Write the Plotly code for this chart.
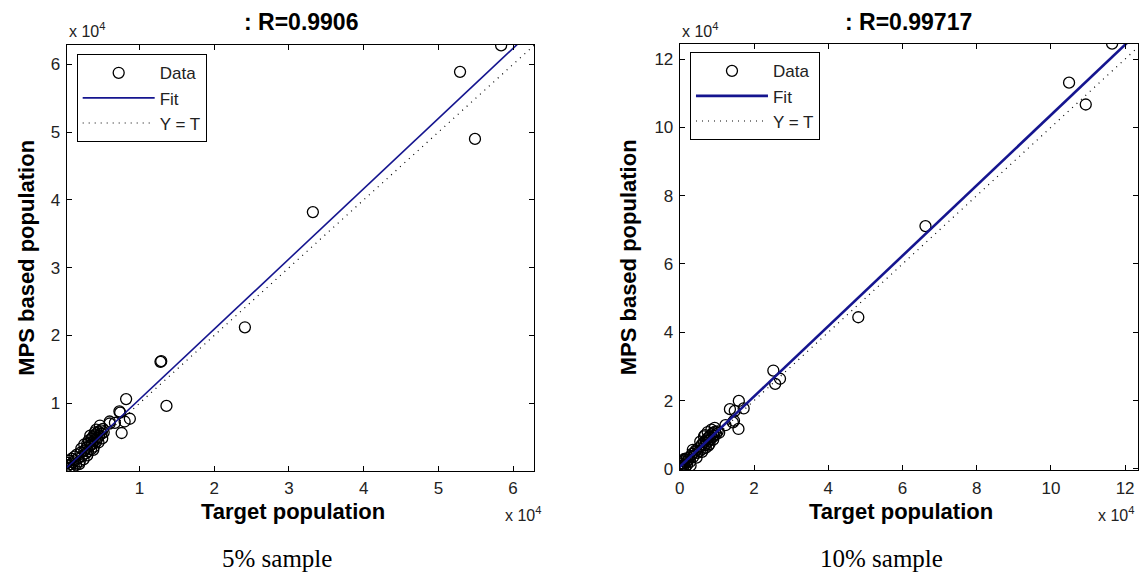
import plotly.graph_objects as go

# ---------------- data: 5% sample (left) ----------------
t5 = [300, 400, 500, 600, 700, 800, 900, 1000, 1100, 1200, 1300, 1400, 1500, 1600, 1800,
      2000, 2100, 2300, 2500, 2600, 2800, 2900, 3000, 3100, 3200, 3300, 3400, 3500, 3600,
      3700, 3800, 3900, 4000, 4100, 4200, 4300, 4400, 4500, 4600, 4800, 4900, 5100, 5200,
      2600, 3000, 3400, 3800, 4200, 4500, 4700, 5000, 3600, 4000, 2200, 1900,
      6000, 6700, 6000, 7300, 7400, 7600, 8000, 8200, 8700, 12800, 12900, 13600, 24100,
      33200, 52900, 54900, 58400]
y5 = [1200, 800, 300, 1500, 500, 1000, 1800, 200, 1300, 700, 2100, 1600, 900, 2400, 1900,
      1400, 2700, 2200, 1700, 3000, 2600, 3400, 4000, 2900, 4500, 3700, 4200, 3200, 4800,
      4000, 5100, 3600, 4600, 5300, 4300, 5600, 4900, 5800, 5200, 6000, 5500, 6200, 5700,
      3900, 2300, 5200, 3100, 6100, 4200, 6700, 4800, 3900, 5700, 3300, 1000,
      7300, 7100, 7000, 8800, 8600, 5600, 7300, 10600, 7700, 16100, 16200, 9600, 21200,
      38200, 58900, 49000, 62800]
fit5_slope, fit5_intercept = 1.036, 210
lim5 = [250, 62850]
r5_text = ": R=0.9906"

# ---------------- data: 10% sample (right) ----------------
t10 = [200, 400, 500, 700, 900, 1000, 1200, 1400, 1500, 1700, 1900, 2000, 2200, 2500, 2800,
       3000, 3300, 3600, 4000, 4300, 4700, 5000, 5400, 5700, 6000, 6200, 6500, 6800, 7000,
       7300, 7500, 7800, 8000, 8200, 8500, 8700, 9000, 9200, 9500, 9800, 10200, 10600,
       5500, 6000, 6500, 7000, 7500, 8000, 8500, 9000, 6800, 7700, 9400, 3500, 4500,
       1200, 2900,
       12300, 13500, 14300, 14600, 14800, 15800, 15900, 17200, 25200, 25700, 27000,
       48100, 66200, 104900, 109400, 116500]
y10 = [-200, 300, 900, 1500, 600, 2200, 1200, 2800, 400, 1900, 3100, 1300, 2500, 3300, 2100,
       3800, 4400, 3500, 4900, 5400, 4700, 6000, 5300, 6700, 7300, 5900, 7800, 7000, 8300,
       7600, 9000, 8200, 9500, 8700, 10100, 9200, 10500, 9700, 10900, 10200, 11000, 10600,
       8000, 5000, 9500, 6200, 10800, 7300, 11500, 8600, 9900, 6800, 12000, 5600, 3300,
       2900, 1000,
       12800, 17500, 13600, 14100, 17000, 11700, 19900, 17700, 28800, 24900, 26400,
       44400, 71100, 113100, 106700, 124500]
fit10_slope, fit10_intercept = 1.03, 600
lim10 = [-150, 124500]
r10_text = ": R=0.99717"

ticks5 = [1, 2, 3, 4, 5, 6]
ticks10 = [0, 2, 4, 6, 8, 10, 12]

W, H = 1139, 583
FIT_COLOR = "#15158f"
SANS = "Liberation Sans, Arial"
TICKFONT = dict(family=SANS, size=17, color="#222")
BOLD = dict(family=SANS, size=23, color="black")
XBOLD = dict(family=SANS, size=22, color="black")
YBOLD = dict(family=SANS, size=22, color="black")

fig = go.Figure()

def add_panel(t, y, slope, intercept, lim, xa, ya, legend, fitw):
    fig.add_trace(go.Scatter(x=t, y=y, mode="markers", name="Data",
                             marker=dict(symbol="circle-open", size=11, color="black",
                                         line=dict(width=1.3, color="black")),
                             xaxis=xa, yaxis=ya, legend=legend))
    fx = [lim[0], lim[1]]
    fy = [slope * v + intercept for v in fx]
    fig.add_trace(go.Scatter(x=fx, y=fy, mode="lines", name="Fit",
                             line=dict(color=FIT_COLOR, width=fitw),
                             xaxis=xa, yaxis=ya, legend=legend))
    fig.add_trace(go.Scatter(x=fx, y=fx, mode="lines", name="Y = T",
                             line=dict(color="black", width=1.2, dash="1px,5px"),
                             xaxis=xa, yaxis=ya, legend=legend))

add_panel(t5, y5, fit5_slope, fit5_intercept, lim5, "x", "y", "legend", 1.6)
add_panel(t10, y10, fit10_slope, fit10_intercept, lim10, "x2", "y2", "legend2", 2.6)

def px_x(p):
    return p / W

def px_y(p):
    return 1 - p / H

axis_common = dict(showline=True, linecolor="black", linewidth=1, mirror="ticks",
                   ticks="inside", ticklen=5, tickcolor="black", tickwidth=1,
                   showgrid=False, zeroline=False, tickfont=TICKFONT)

L = dict(x0=62, x1=531.7, y0=45.7, y1=477.3)
R = dict(x0=677.7, x1=1137.7, y0=44.3, y1=477.0)

LEGFONT = dict(family=SANS, size=17, color="#222")
fig.update_layout(
    width=W, height=H, margin=dict(l=0, r=0, t=0, b=0),
    paper_bgcolor="white", plot_bgcolor="white",
    xaxis=dict(domain=[px_x(L["x0"]), px_x(L["x1"])], range=lim5,
               tickvals=[v * 1e4 for v in ticks5], ticktext=[str(v) for v in ticks5],
               anchor="y", ticklabelstandoff=2, **axis_common),
    yaxis=dict(domain=[px_y(L["y1"]), px_y(L["y0"])], range=[30, 62850],
               tickvals=[v * 1e4 for v in ticks5], ticktext=[str(v) for v in ticks5],
               anchor="x", ticklabelstandoff=2, **axis_common),
    xaxis2=dict(domain=[px_x(R["x0"]), px_x(R["x1"])], range=[-30, 123400],
                tickvals=[v * 1e4 for v in ticks10], ticktext=[str(v) for v in ticks10],
                anchor="y2", ticklabelstandoff=2, **axis_common),
    yaxis2=dict(domain=[px_y(R["y1"]), px_y(R["y0"])], range=[-450, 124500],
                tickvals=[v * 1e4 for v in ticks10], ticktext=[str(v) for v in ticks10],
                anchor="x2", ticklabelstandoff=2, **axis_common),
    legend=dict(x=px_x(72), y=px_y(55), xanchor="left", yanchor="top",
                bordercolor="black", borderwidth=1, bgcolor="white",
                font=LEGFONT, itemwidth=72, tracegroupgap=0),
    legend2=dict(x=px_x(688), y=px_y(53), xanchor="left", yanchor="top",
                 bordercolor="black", borderwidth=1, bgcolor="white",
                 font=LEGFONT, itemwidth=72, tracegroupgap=0),
    showlegend=True,
)

ann = []
def A(text, x, y, font, **kw):
    d = dict(text=text, x=px_x(x), y=px_y(y), xref="paper", yref="paper",
             showarrow=False, font=font)
    d.update(kw)
    ann.append(d)

EXP = dict(family=SANS, size=16, color="#222")
for P, title, ycx, ex in [(L, r5_text, 22, 500), (R, r10_text, 626, 1096)]:
    cx = (P["x0"] + P["x1"]) / 2
    cy = (P["y0"] + P["y1"]) / 2
    A("<b>" + title + "</b>", cx, 22, BOLD, xanchor="center", yanchor="middle")
    A("<b>Target population</b>", cx - 8, 519, XBOLD, xanchor="center", yanchor="middle")
    A("<b>MPS based population</b>", ycx, cy, YBOLD, xanchor="center", yanchor="middle",
      textangle=-90)
    A("x 10<sup>4</sup>", P["x0"], 30, EXP, xanchor="left", yanchor="middle")
    A("x 10<sup>4</sup>", ex, 521, EXP, xanchor="left", yanchor="middle")

CAP = dict(family="Liberation Serif, Times New Roman", size=25, color="black")
A("5% sample", 273, 566, CAP, xanchor="center", yanchor="middle")
A("10% sample", 880, 566, CAP, xanchor="center", yanchor="middle")

fig.update_layout(annotations=ann)
fig.write_html("out.html")
